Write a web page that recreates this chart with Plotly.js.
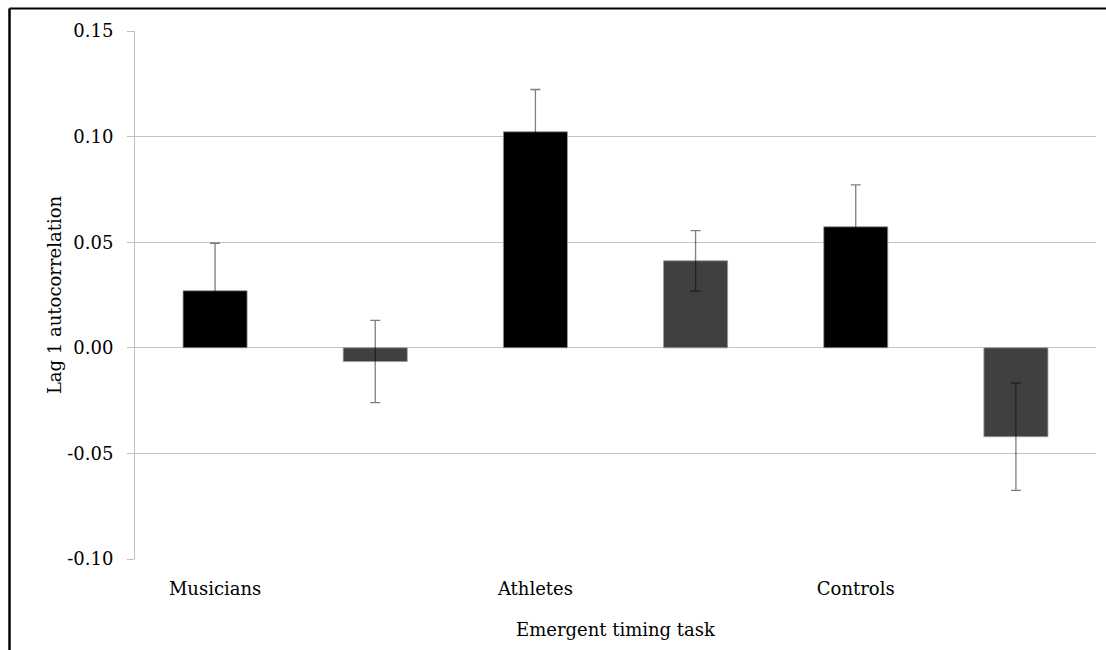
<!DOCTYPE html>
<html>
<head>
<meta charset="utf-8">
<script src="https://cdn.plot.ly/plotly-3.0.1.min.js"></script>
<style>
  html, body { margin: 0; padding: 0; background: #ffffff; }
  #chart { width: 1106px; height: 650px; }
</style>
</head>
<body>
<div id="chart"></div>
<script>
// ---- data ----
const groups = ['Musicians', 'Athletes', 'Controls'];
const barLabels = ['Musicians', '', 'Athletes', '', 'Controls', ''];
const values = [0.027, -0.0065, 0.1023, 0.0412, 0.0573, -0.0421];
const errors = [0.0225, 0.0195, 0.0200, 0.0143, 0.0198, 0.0254];
const barColors = ['#000000', '#404040', '#000000', '#404040', '#000000', '#404040'];
const yTicks = [-0.10, -0.05, 0.00, 0.05, 0.10, 0.15];
const yTickText = ['-0.10', '-0.05', '0.00', '0.05', '0.10', '0.15'];

const xIndex = barLabels.map((_, i) => i);
const groupTickVals = barLabels.map((l, i) => l ? i : null).filter(v => v !== null);
const groupTickText = barLabels.filter(l => l);
const boundaries = barLabels.map((_, i) => i - 0.5).concat([barLabels.length - 0.5]);

const FONT = 'DejaVu Serif, Liberation Serif, serif';

const trace = {
  type: 'bar',
  x: xIndex,
  y: values,
  width: 0.4,
  marker: { color: barColors, line: { color: '#9a9a9a', width: 0.8 } },
  error_y: {
    type: 'data', array: errors, visible: true, symmetric: true,
    color: 'rgba(0,0,0,0.5)', thickness: 1.3, width: 5
  },
  hoverinfo: 'x+y',
  showlegend: false
};

const layout = {
  width: 1106, height: 650,
  margin: { l: 135, r: 10, t: 31, b: 91 },
  paper_bgcolor: '#ffffff', plot_bgcolor: '#ffffff',
  font: { family: FONT, size: 18, color: '#000000' },
  showlegend: false,
  bargap: 0.6,
  xaxis: {
    type: 'linear',
    range: [-0.5, barLabels.length - 0.5],
    tickvals: groupTickVals,
    ticktext: groupTickText,
    ticks: '', showline: false, showgrid: false, zeroline: false,
    ticklabelstandoff: 17,
    tickfont: { family: FONT, size: 18, color: '#000' },
    title: { text: 'Emergent timing task', font: { family: FONT, size: 18, color: '#000' }, standoff: 25 },
    fixedrange: true
  },
  xaxis2: {
    type: 'linear',
    overlaying: 'x',
    anchor: 'free',
    position: 0.4,
    side: 'bottom',
    range: [-0.5, barLabels.length - 0.5],
    tickvals: boundaries,
    showticklabels: false,
    ticks: 'outside', ticklen: 6, tickcolor: '#bfbfbf', tickwidth: 1,
    showline: true, linecolor: '#bfbfbf', linewidth: 1,
    showgrid: false, zeroline: false
  },
  yaxis: {
    range: [-0.10, 0.15],
    tickvals: yTicks,
    ticktext: yTickText,
    ticks: 'outside', ticklen: 7, tickcolor: '#bfbfbf',
    ticklabelstandoff: 10,
    showline: true, linecolor: '#bfbfbf', linewidth: 1,
    showgrid: true, gridcolor: '#c4c4c4', gridwidth: 1,
    zeroline: false,
    tickfont: { family: FONT, size: 18, color: '#000' },
    title: { text: 'Lag 1 autocorrelation', font: { family: FONT, size: 18, color: '#000' }, standoff: 0 },
    fixedrange: true
  },
  shapes: [
    { type: 'line', xref: 'paper', yref: 'paper',
      x0: (9.5 - 135) / 961, x1: 1.2, y0: (559 - 8.5) / 528, y1: (559 - 8.5) / 528,
      line: { color: '#000', width: 2.2 } },
    { type: 'line', xref: 'paper', yref: 'paper',
      x0: (9.5 - 135) / 961, x1: (9.5 - 135) / 961, y0: (559 - 8.5) / 528, y1: -0.5,
      line: { color: '#000', width: 2.5 } }
  ]
};

Plotly.newPlot('chart', [trace], layout, { displayModeBar: false, staticPlot: true });
</script>
</body>
</html>
